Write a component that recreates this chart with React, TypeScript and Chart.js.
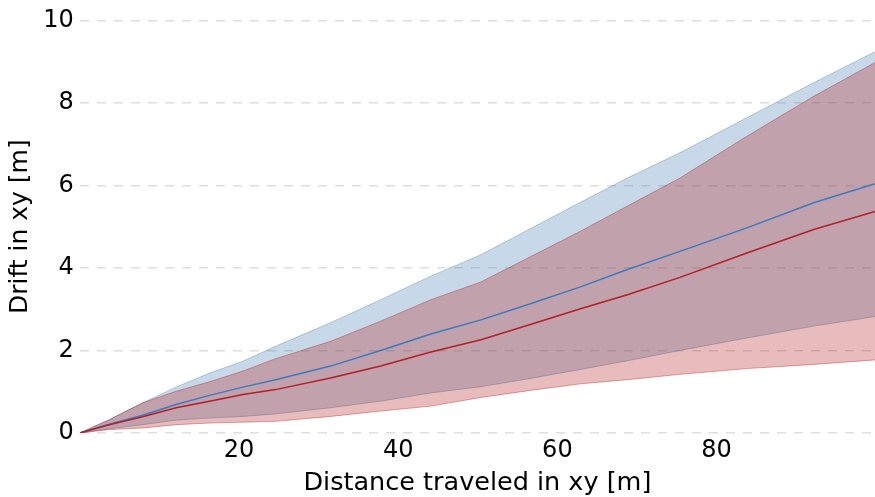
import React, { useEffect, useRef } from "react";
import { Chart, registerables } from "chart.js";

Chart.register(...registerables);

const distance = [0, 3.7, 7.9, 12.1, 16.3, 20.5, 24.6, 31.5, 37.8, 44.1, 50.4, 56.6, 62.9, 68.8, 75.4, 83.8, 92.2, 99.9];
const blueUpper = [0, 0.32, 0.73, 1.11, 1.45, 1.74, 2.10, 2.67, 3.23, 3.80, 4.32, 4.95, 5.59, 6.18, 6.79, 7.64, 8.49, 9.24];
const blueMean = [0, 0.21, 0.43, 0.69, 0.91, 1.11, 1.29, 1.62, 2.00, 2.40, 2.74, 3.13, 3.54, 3.96, 4.40, 4.97, 5.58, 6.04];
const blueLower = [0, 0.10, 0.20, 0.31, 0.36, 0.40, 0.46, 0.61, 0.77, 0.97, 1.12, 1.32, 1.54, 1.75, 2.00, 2.30, 2.59, 2.82];
const redUpper = [0, 0.32, 0.73, 1.01, 1.24, 1.50, 1.80, 2.22, 2.71, 3.23, 3.66, 4.27, 4.89, 5.50, 6.18, 7.19, 8.16, 8.98];
const redMean = [0, 0.20, 0.39, 0.61, 0.77, 0.93, 1.05, 1.33, 1.62, 1.96, 2.26, 2.63, 3.01, 3.35, 3.77, 4.36, 4.93, 5.37];
const redLower = [0, 0.08, 0.12, 0.20, 0.24, 0.26, 0.28, 0.40, 0.53, 0.65, 0.86, 1.03, 1.19, 1.29, 1.42, 1.56, 1.66, 1.77];

const xTicks = [20, 40, 60, 80];
const yTicks = [0, 2, 4, 6, 8, 10];

const pts = (ys: number[]) => distance.map((x, i) => ({ x, y: ys[i] }));

const FONT = "'DejaVu Sans', sans-serif";

export default function App() {
  const ref = useRef<HTMLCanvasElement>(null);
  useEffect(() => {
    if (!ref.current) return;
    const blueFill = "rgba(70,130,180,0.3)";
    const blueEdge = "rgba(70,130,180,0.4)";
    const redFill = "rgba(178,34,34,0.3)";
    const redEdge = "rgba(178,34,34,0.4)";
    const band = { pointRadius: 0, borderWidth: 1, tension: 0 };
    const chart = new Chart(ref.current, {
      type: "line",
      data: {
        datasets: [
          { ...band, order: 5, label: "blueLower", data: pts(blueLower), borderColor: blueEdge, backgroundColor: blueFill, fill: false },
          { ...band, order: 4, label: "blueUpper", data: pts(blueUpper), borderColor: blueEdge, backgroundColor: blueFill, fill: "-1" },
          { ...band, order: 3, label: "redLower", data: pts(redLower), borderColor: redEdge, backgroundColor: redFill, fill: false },
          { ...band, order: 2, label: "redUpper", data: pts(redUpper), borderColor: redEdge, backgroundColor: redFill, fill: "-1" },
          { order: 1, label: "blueMean", data: pts(blueMean), borderColor: "#3a7bbd", borderWidth: 1.5, pointRadius: 0, fill: false },
          { order: 0, label: "redMean", data: pts(redMean), borderColor: "#b21f24", borderWidth: 1.5, pointRadius: 0, fill: false },
        ],
      },
      options: {
        animation: false,
        responsive: false,
        maintainAspectRatio: false,
        layout: { padding: { left: 7, right: 0, top: 4, bottom: 0 } },
        plugins: { legend: { display: false }, tooltip: { enabled: false } },
        scales: {
          x: {
            type: "linear",
            min: 0,
            max: distance[distance.length - 1],
            afterBuildTicks: (axis: any) => {
              axis.ticks = xTicks.map((v) => ({ value: v }));
            },
            grid: { display: false, drawTicks: false },
            border: { display: false },
            ticks: { color: "#000", font: { family: FONT, size: 24 }, padding: 3, maxRotation: 0 },
            title: { display: true, text: "Distance traveled in xy [m]", color: "#000", font: { family: FONT, size: 25.5, lineHeight: 1.05 }, padding: { top: 2.5, bottom: 0 } },
          },
          y: {
            type: "linear",
            min: 0,
            max: 10,
            afterBuildTicks: (axis: any) => {
              axis.ticks = yTicks.map((v) => ({ value: v }));
            },
            grid: { color: "#dedede", lineWidth: 1.4, drawTicks: false },
            border: { display: false, dash: [9, 8] },
            ticks: { color: "#000", font: { family: FONT, size: 24 }, padding: 6 },
            title: { display: true, text: "Drift in xy [m]", color: "#000", font: { family: FONT, size: 25, lineHeight: 1.05 }, padding: { top: 0, bottom: 4 } },
          },
        },
      },
    });
    return () => chart.destroy();
  }, []);
  return (
    <div style={{ position: "fixed", left: 0, top: 0, width: 875, height: 497, background: "#fff" }}>
      <canvas ref={ref} width={875} height={497} style={{ width: 875, height: 497, display: "block" }} />
    </div>
  );
}
